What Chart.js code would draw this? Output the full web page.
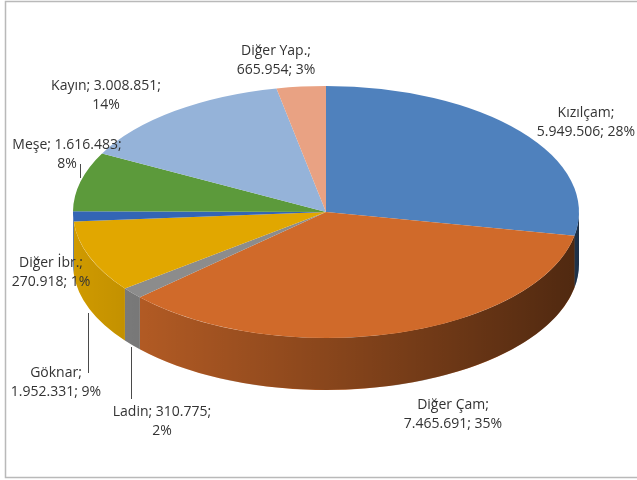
<!DOCTYPE html>
<html>
<head>
<meta charset="utf-8">
<script src="https://cdn.jsdelivr.net/npm/chart.js@4.4.0/dist/chart.umd.min.js"></script>
<style>
    html, body { margin: 0; padding: 0; background: #fff; }
    #chart { display: block; }
</style>
</head>
<body>
<canvas id="chart" width="637" height="480"></canvas>
<script>
// data
const categories = ['Kızılçam', 'Diğer Çam', 'Ladin', 'Göknar', 'Diğer İbr.', 'Meşe', 'Kayın', 'Diğer Yap.'];
const values = [5949506, 7465691, 310775, 1952331, 270918, 1616483, 3008851, 665954];
const percents = [28, 35, 2, 9, 1, 8, 14, 3];
const colors = ['#4F81BD', '#D06A2A', '#8C8C8C', '#E1A700', '#3365B5', '#5C9A3B', '#95B3D9', '#E9A283'];

// where Excel put the labels: [center x, first line y, words before line break]
const labelPlace = [
    [586, 113, 1],
    [453, 405, 1],
    [162, 412, 2],
    [56, 373, 1],
    [51, 263, 1],
    [67, 145, 2],
    [106, 86, 2],
    [276, 51, 1]
];
// leader lines [x, y1, y2]
const leaders = [[88, 313, 373], [131, 347, 399], [80, 164, 178]];

// 3d pie geometry
const pie = {cx: 326, cy: 212, rx: 253, ry: 126, depth: 52};

function fmt(v) {
    return String(v).replace(/\B(?=(\d{3})+(?!\d))/g, '.');
}

function wallPath(ctx, a, b) {
    ctx.beginPath();
    ctx.ellipse(pie.cx, pie.cy, pie.rx, pie.ry, 0, a, b, false);
    ctx.ellipse(pie.cx, pie.cy + pie.depth, pie.rx, pie.ry, 0, b, a, true);
    ctx.closePath();
}

const pie3d = {
    id: 'pie3d',
    beforeDraw(chart) {
        let ctx = chart.ctx;
        ctx.save();
        ctx.strokeStyle = '#b9b9b9';
        ctx.lineWidth = 1.5;
        ctx.strokeRect(5.5, 1.5, 650, 476);
        ctx.restore();
    },
    beforeDatasetsDraw(chart) {
        let ctx = chart.ctx;
        let arcs = chart.getDatasetMeta(0).data;
        // side wall, front half only
        arcs.forEach(function (arc, i) {
            let a = Math.max(arc.startAngle, 0);
            let b = Math.min(arc.endAngle, Math.PI);
            if (b <= a) return;
            ctx.fillStyle = colors[i];
            wallPath(ctx, a, b);
            ctx.fill();
        });
        let g = ctx.createLinearGradient(pie.cx - pie.rx, 0, pie.cx + pie.rx, 0);
        g.addColorStop(0, 'rgba(0,0,0,0.08)');
        g.addColorStop(0.5, 'rgba(0,0,0,0.34)');
        g.addColorStop(1, 'rgba(0,0,0,0.62)');
        ctx.fillStyle = g;
        wallPath(ctx, 0, Math.PI);
        ctx.fill();

        // squash the flat pie into the top face
        let r = arcs[0].outerRadius;
        ctx.save();
        ctx.translate(pie.cx, pie.cy);
        ctx.scale(pie.rx / r, pie.ry / r);
        ctx.translate(-arcs[0].x, -arcs[0].y);
    },
    afterDatasetsDraw(chart) {
        chart.ctx.restore();
    },
    afterDraw(chart) {
        let ctx = chart.ctx;
        ctx.save();
        ctx.strokeStyle = '#4a4a4a';
        ctx.lineWidth = 1;
        leaders.forEach(function (l) {
            ctx.beginPath();
            ctx.moveTo(l[0] + 0.5, l[1]);
            ctx.lineTo(l[0] + 0.5, l[2]);
            ctx.stroke();
        });
        ctx.fillStyle = '#333333';
        ctx.font = '14px "Open Sans"';
        ctx.textAlign = 'center';
        ctx.textBaseline = 'middle';
        categories.forEach(function (c, i) {
            let parts = [c, fmt(values[i]), percents[i] + '%'];
            let cut = labelPlace[i][2];
            let l1 = parts.slice(0, cut).join('; ') + ';';
            let l2 = parts.slice(cut).join('; ');
            ctx.fillText(l1, labelPlace[i][0], labelPlace[i][1]);
            ctx.fillText(l2, labelPlace[i][0], labelPlace[i][1] + 19);
        });
        ctx.restore();
    }
};

new Chart(document.getElementById('chart'), {
    type: 'pie',
    data: {
        labels: categories,
        datasets: [{
            data: values,
            backgroundColor: colors,
            borderWidth: 0,
            clip: false
        }]
    },
    options: {
        responsive: false,
        devicePixelRatio: 1,
        animation: false,
        layout: {padding: 0},
        plugins: {
            legend: {display: false},
            tooltip: {enabled: false}
        }
    },
    plugins: [pie3d]
});
</script>
</body>
</html>
